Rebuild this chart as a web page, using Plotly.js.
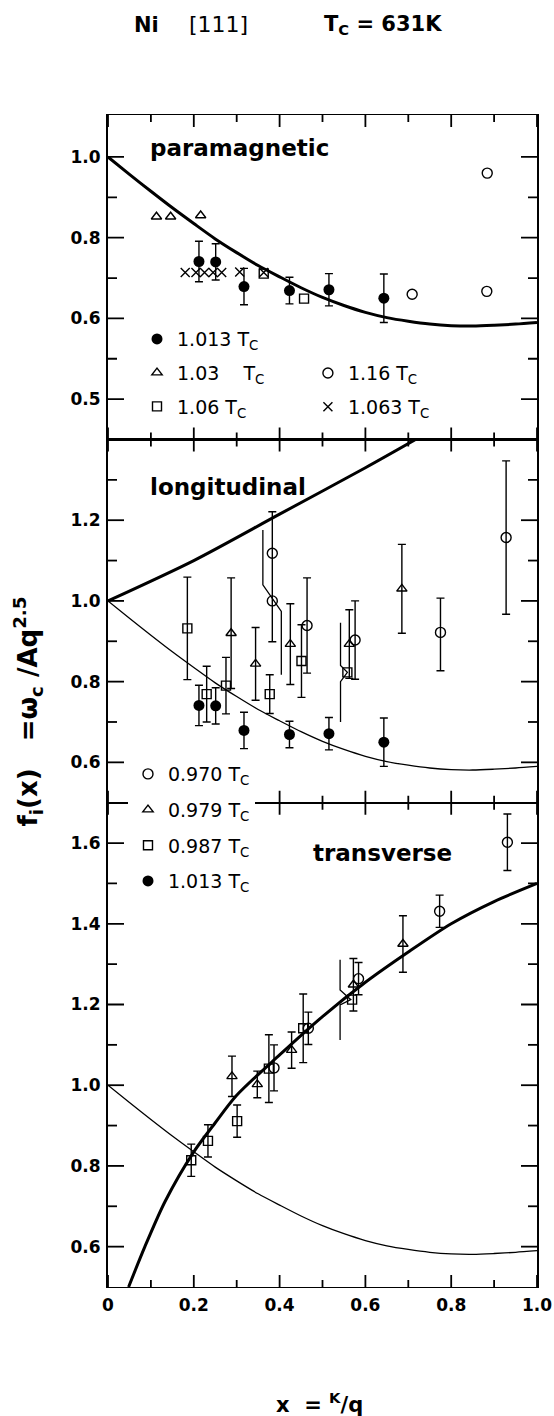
<!DOCTYPE html>
<html><head><meta charset="utf-8">
<script src="https://cdn.plot.ly/plotly-3.0.1.min.js"></script>
<style>html,body{margin:0;padding:0;background:#fff}#chart{width:554px;height:1416px}</style>
</head><body><div id="chart"></div>
<script>
// ---- theory curves ----
const curveX = [0,0.05,0.1,0.15,0.2,0.25,0.3,0.35,0.4,0.45,0.5,0.55,0.6,0.65,0.7,0.75,0.8,0.85,0.9,0.95,1.0];
const curveY = [1.0,0.957,0.915,0.874,0.835,0.797,0.763,0.731,0.703,0.676,0.652,0.632,0.615,0.602,0.593,0.586,0.582,0.581,0.583,0.586,0.590];
const longX = [0,0.2,0.4,0.6,0.75];
const longY = [1.0,1.10,1.215,1.33,1.42];
const transX = [0.048,0.086,0.133,0.2,0.25,0.3,0.4,0.5,0.6,0.7,0.8,0.9,1.0];
const transY = [0.5,0.6,0.712,0.835,0.907,0.975,1.075,1.17,1.255,1.33,1.40,1.455,1.50];

// ---- paramagnetic ----
const p1013X = [0.212,0.251,0.317,0.423,0.515,0.643];
const p1013Y = [0.741,0.740,0.679,0.669,0.671,0.650];
const p1013Err = [0.05,0.045,0.045,0.033,0.04,0.06];
const p103X = [0.113,0.146,0.216];
const p103Y = [0.852,0.852,0.855];
const p106X = [0.363,0.457];
const p106Y = [0.711,0.649];
const p116X = [0.709,0.883,0.884];
const p116Y = [0.660,0.667,0.960];
const p1063X = [0.18,0.205,0.225,0.245,0.265,0.307,0.363];
const p1063Y = [0.714,0.714,0.714,0.714,0.714,0.715,0.714];

// ---- longitudinal ----
const l970X = [0.383,0.383,0.464,0.576,0.775,0.928];
const l970Y = [1.118,1.0,0.939,0.903,0.922,1.157];
const l970Plus = [0.103,NaN,0.118,0.097,0.085,0.19];
const l970Minus = [0.219,NaN,0.118,0.097,0.095,0.19];
const l979X = [0.287,0.344,0.425,0.5625,0.685];
const l979Y = [0.92,0.844,0.893,0.893,1.03];
const l979Err = [0.137,0.09,0.1,0.085,0.11];
const l987X = [0.185,0.230,0.275,0.377,0.451,0.558];
const l987Y = [0.932,0.769,0.790,0.769,0.851,0.823];
const l987Err = [0.127,0.069,0.07,0.048,0.09,NaN];
const lKinkAX = [0.361,0.361,0.404,0.404];
const lKinkAY = [1.176,1.04,0.974,0.817];
const lKinkBX = [0.542,0.542,0.558,0.542,0.542];
const lKinkBY = [0.946,0.84,0.823,0.80,0.70];

// ---- transverse ----
const t970X = [0.931,0.773,0.584,0.467,0.387];
const t970Y = [1.602,1.431,1.264,1.141,1.043];
const t970Err = [0.07,0.04,0.04,0.04,0.057];
const t979X = [0.6875,0.572,0.428,0.348,0.289];
const t979Y = [1.35,1.249,1.087,1.002,1.022];
const t979Err = [0.07,0.065,0.045,0.033,0.05];
const t987X = [0.569,0.455,0.375,0.301,0.233,0.194];
const t987Y = [1.212,1.141,1.041,0.911,0.862,0.814];
const t987Err = [NaN,0.085,0.084,0.04,0.04,0.04];
const tKinkX = [0.541,0.541,0.566,0.541,0.541];
const tKinkY = [1.311,1.236,1.212,1.199,1.112];

// ---- axes ----
const xRange = [0,1];
const y1Range = [0.3,1.104];
const y2Range = [0.5,1.4];
const y3Range = [0.5,1.7];
const y1Dom = [0.72314,1];
const y2Dom = [0.41322,0.72314];
const y3Dom = [0,0.41322];
const xTicks = [0,0.2,0.4,0.6,0.8,1.0];
const xTickText = ['0','0.2','0.4','0.6','0.8','1.0'];
const xMinor = [0.1,0.3,0.5,0.7,0.9];
const y1Ticks = [0.4,0.6,0.8,1.0];
const y1TickText = ['0.5','0.6','0.8','1.0'];
const y1Minor = [0.5,0.7,0.9];
const y2Ticks = [0.6,0.8,1.0,1.2];
const y2Minor = [0.7,0.9,1.1,1.3];
const y3Ticks = [0.6,0.8,1.0,1.2,1.4,1.6];
const y3Minor = [0.7,0.9,1.1,1.3,1.5];

const W = 554, H = 1416, M = {l:108, r:17, t:115, b:129};
const plotW = W - M.l - M.r, plotH = H - M.t - M.b;
const TC = ' T<sub>C</sub>';

function eb(plus, minus){
  return {type:'data', symmetric:false, array:plus, arrayminus:minus||plus, color:'#000', thickness:1.4, width:4};
}
function line(x,y,ya,w){ return {x:x,y:y,yaxis:ya,mode:'lines',line:{color:'#000',width:w,shape:'spline',smoothing:0.8},showlegend:false,hoverinfo:'skip'}; }
function kink(x,y,ya){ return {x:x,y:y,yaxis:ya,mode:'lines',line:{color:'#000',width:1.3},showlegend:false,hoverinfo:'skip'}; }
function pts(x,y,ya,sym,size,name,leg,grp,err,errm,show){
  const open = sym.indexOf('open')>=0;
  const t = {x:x,y:y,yaxis:ya,mode:'markers',name:name,legend:leg,legendgroup:grp,showlegend:show!==false,
    marker:{symbol:sym,size:size,color:'#000',line:{color:'#000',width:open?1.4:0}},cliponaxis:false};
  if(err) t.error_y = eb(err, errm);
  return t;
}
// inward tick marks on all four sides of a panel (lengths given in pixels, converted with the panel scale)
function tickLines(ya, dom, rng, major, minor){
  const xPer = plotW/(xRange[1]-xRange[0]);
  const yPer = plotH*(dom[1]-dom[0])/(rng[1]-rng[0]);
  const xs = [], ys = [];
  function seg(x0,y0,x1,y1){ xs.push(x0,x1,null); ys.push(y0,y1,null); }
  major.forEach(function(v){ seg(xRange[0],v,xRange[0]+16/xPer,v); seg(xRange[1],v,xRange[1]-16/xPer,v); });
  minor.forEach(function(v){ seg(xRange[0],v,xRange[0]+9/xPer,v); seg(xRange[1],v,xRange[1]-9/xPer,v); });
  xTicks.forEach(function(v){ seg(v,rng[0],v,rng[0]+12/yPer); seg(v,rng[1],v,rng[1]-12/yPer); });
  xMinor.forEach(function(v){ seg(v,rng[0],v,rng[0]+7/yPer); seg(v,rng[1],v,rng[1]-7/yPer); });
  return {x:xs, y:ys, yaxis:ya, mode:'lines', connectgaps:false, line:{color:'#000', width:1.8},
    showlegend:false, hoverinfo:'skip'};
}

const traces = [
  tickLines('y', y1Dom, y1Range, y1Ticks, y1Minor),
  tickLines('y2', y2Dom, y2Range, y2Ticks, y2Minor),
  tickLines('y3', y3Dom, y3Range, y3Ticks, y3Minor),
  line(curveX,curveY,'y',3),
  pts(p1013X,p1013Y,'y','circle',11,'1.013'+TC,'legend','a1',p1013Err),
  pts(p103X,p103Y,'y','triangle-up-open',9,'1.03\u00a0\u00a0\u00a0'+TC,'legend','a2'),
  pts(p106X,p106Y,'y','square-open',9,'1.06'+TC,'legend','a3'),
  pts(p116X,p116Y,'y','circle-open',10,'1.16'+TC,'legend2','b1'),
  pts(p1063X,p1063Y,'y','x-thin-open',9,'1.063'+TC,'legend2','b2'),
  line(curveX,curveY,'y2',1.3),
  line(longX,longY,'y2',3),
  kink(lKinkAX,lKinkAY,'y2'),
  kink(lKinkBX,lKinkBY,'y2'),
  pts(l970X,l970Y,'y2','circle-open',10,'0.970'+TC,'legend3','c1',l970Plus,l970Minus),
  pts(l979X,l979Y,'y2','triangle-up-open',9,'0.979'+TC,'legend3','c2',l979Err),
  pts(l987X,l987Y,'y2','square-open',9,'0.987'+TC,'legend3','c3',l987Err),
  pts(p1013X,p1013Y,'y2','circle',11,'1.013'+TC,'legend3','c4',p1013Err),
  line(curveX,curveY,'y3',1.3),
  line(transX,transY,'y3',3),
  kink(tKinkX,tKinkY,'y3'),
  pts(t970X,t970Y,'y3','circle-open',10,'0.970'+TC,'legend3','d1',t970Err,null,false),
  pts(t979X,t979Y,'y3','triangle-up-open',9,'0.979'+TC,'legend3','d2',t979Err,null,false),
  pts(t987X,t987Y,'y3','square-open',9,'0.987'+TC,'legend3','d3',t987Err,null,false)
];

const tickFont = {family:'DejaVu Sans', size:17, color:'#000', weight:'bold'};
function yax(dom, rng, tv, tt){
  return {domain:dom, range:rng, anchor:'x', tickmode:'array', tickvals:tv, ticktext:tt,
    ticks:'', showline:true, linewidth:2, linecolor:'#000',
    mirror:true, showgrid:false, zeroline:false, tickfont:tickFont, ticklabelstandoff:2};
}
const legBase = {bgcolor:'rgba(0,0,0,0)', borderwidth:0, font:{family:'DejaVu Sans', size:19, color:'#000'},
  tracegroupgap:6, xanchor:'left', yanchor:'top', itemsizing:'trace'};
const lblFont = {family:'DejaVu Sans', size:23, color:'#000', weight:'bold'};
function ann(text, x, y, font, extra){
  return Object.assign({text:text, x:x, y:y, xref:'paper', yref:'paper', showarrow:false,
    xanchor:'center', yanchor:'middle', font:font}, extra||{});
}
const titleFont = {family:'DejaVu Sans', size:21, color:'#000', weight:'bold'};
const layout = {
  width:W, height:H, margin:M,
  paper_bgcolor:'#fff', plot_bgcolor:'#fff', showlegend:true,
  font:{family:'DejaVu Sans', color:'#000'},
  xaxis:{range:xRange, anchor:'y3', tickmode:'array', tickvals:xTicks, ticktext:xTickText,
    ticks:'', showline:true, linewidth:1.2, linecolor:'#000',
    mirror:'all', showgrid:false, zeroline:false, tickfont:tickFont, ticklabelstandoff:2},
  yaxis: yax(y1Dom,y1Range,y1Ticks,y1TickText),
  yaxis2: yax(y2Dom,y2Range,y2Ticks,y2Ticks.map(v=>v.toFixed(1))),
  yaxis3: yax(y3Dom,y3Range,y3Ticks,y3Ticks.map(v=>v.toFixed(1))),
  legend: Object.assign({}, legBase, {x:0.0676, y:0.825}),
  legend2: Object.assign({}, legBase, {x:0.466, y:0.796}),
  legend3: Object.assign({}, legBase, {x:0.0466, y:0.4539, bgcolor:'#fff', tracegroupgap:8}),
  annotations:[
    ann('Ni', 0.0909, 1.0768, titleFont),
    ann('[111]', 0.2576, 1.0768, {family:'DejaVu Sans', size:22, color:'#000'}),
    ann('T<sub>C</sub> = 631K', 0.641, 1.0768, titleFont),
    ann('paramagnetic', 0.0932, 0.9718, lblFont, {xanchor:'left'}),
    ann('longitudinal', 0.0932, 0.6826, lblFont, {xanchor:'left'}),
    ann('transverse', 0.4732, 0.3703, lblFont, {xanchor:'left'}),
    ann('f<sub>i</sub>(x)\u00a0\u00a0 =ω<sub>c</sub> /Aq<sup>2.5</sup>', -0.1865, 0.491,
        {family:'DejaVu Sans', size:26, color:'#000', weight:'bold'}, {textangle:-90}),
    ann('x\u00a0 = <sup>K</sup>/q', 0.494, -0.099, titleFont)
  ]
};
Plotly.newPlot('chart', traces, layout, {displayModeBar:false, staticPlot:true});
</script></body></html>
